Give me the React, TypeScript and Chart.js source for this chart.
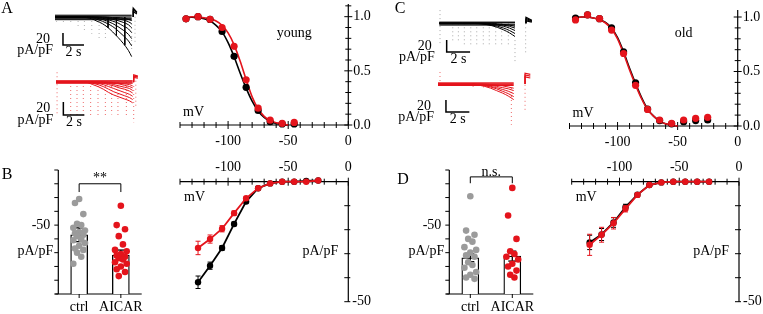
import { useEffect, useRef } from "react";
import { Chart, registerables } from "chart.js";
import type { ChartConfiguration, Plugin } from "chart.js";

Chart.register(...registerables);

const RED = "#e4141c";
const BLACK = "#000000";
const CELL_GREY = "#9b9b9b";
const FONT = '"Liberation Serif", "Times New Roman", Times, serif';

// ---------- steady-state activation (normalized, vs. mV) ----------
const actVoltsYoung = [-135, -125, -115, -105, -95, -85, -75, -65, -55, -45];
const actYoungCtrl = [0.98, 1.0, 0.975, 0.863, 0.634, 0.348, 0.134, 0.03, 0.01, 0.01];
const actYoungAicar = [0.98, 1.0, 0.976, 0.9, 0.726, 0.417, 0.155, 0.045, 0.015, 0.024];
const actVoltsOld = [-135, -125, -115, -105, -95, -85, -75, -65, -55, -45, -35, -25];
const actOldCtrl = [0.99, 1.02, 0.985, 0.9, 0.68, 0.397, 0.155, 0.05, 0.02, 0.04, 0.05, 0.055];
const actOldAicar = [0.973, 1.02, 0.985, 0.88, 0.665, 0.373, 0.152, 0.055, 0.025, 0.055, 0.07, 0.08];

// Boltzmann fits, sampled along the voltage axis
const fitVolts = [-137, -130, -125, -120, -115, -110, -105, -100, -95, -90, -85, -80, -75, -70, -65, -60, -55, -50];
const fitYoungCtrl = [0.99, 0.995, 0.99, 0.98, 0.96, 0.92, 0.86, 0.76, 0.63, 0.48, 0.34, 0.22, 0.13, 0.07, 0.035, 0.015, 0.005, 0];
const fitYoungAicar = [0.99, 1.0, 0.995, 0.99, 0.98, 0.96, 0.92, 0.85, 0.74, 0.59, 0.42, 0.26, 0.15, 0.08, 0.04, 0.02, 0.01, 0];
const fitOldCtrl = [0.985, 1.0, 1.0, 0.99, 0.975, 0.95, 0.9, 0.81, 0.68, 0.53, 0.39, 0.26, 0.155, 0.09, 0.045, 0.02, 0.008, 0];
const fitOldAicar = [0.985, 1.0, 1.0, 0.99, 0.975, 0.945, 0.89, 0.8, 0.665, 0.515, 0.375, 0.25, 0.15, 0.09, 0.045, 0.02, 0.008, 0];

// ---------- current density vs. voltage (pA/pF) ----------
const ivVolts = [-125, -115, -105, -95, -85, -75, -65, -55, -45, -35, -25];
const ivYoungCtrl = [-41.9, -35, -27.6, -17.6, -8.3, -2.7, -0.7, 0, 0, 0.3, 0.5];
const ivYoungCtrlSem = [2.6, 1.5, 1.0, 0.8, 0.6, 0.4, 0.3, 0.2, 0.2, 0.2, 0.2];
const ivYoungAicar = [-27.6, -23.9, -19.6, -13.1, -6.9, -2.7, -0.7, 0, 0, 0, 0.5];
const ivYoungAicarSem = [2.8, 1.7, 1.3, 0.9, 0.6, 0.4, 0.3, 0.2, 0.2, 0.2, 0.2];
const ivOldCtrl = [-25.3, -22, -17, -10.6, -5.4, -1.4, -0.3, 0, 0, 0, 0];
const ivOldCtrlSem = [3, 2.5, 2, 1.2, 0.7, 0.4, 0.3, 0.2, 0.2, 0.2, 0.2];
const ivOldAicar = [-26.3, -22.1, -17.3, -11.3, -5.5, -1.4, -0.3, 0, 0, 0, 0];
const ivOldAicarSem = [4.4, 3.1, 2.4, 1.3, 0.8, 0.5, 0.3, 0.2, 0.2, 0.2, 0.2];

// ---------- per-cell current density at -125 mV ----------
const barGroups = ["ctrl", "AICAR"];
const youngMeans = [-43, -28.3];
const youngSems = [5, 3.6];
const youngCtrlCells = [-69, -66, -58, -51, -50, -48, -46, -45, -44, -43, -42, -40, -39, -37, -35, -33, -32, -30, -27, -22];
const youngAicarCells = [-64, -50, -47, -42, -36, -32, -31, -29, -28, -27, -26, -25, -23, -22, -20, -18, -16, -13];
const oldMeans = [-26.3, -27.5];
const oldSems = [2.8, 3.6];
const oldCtrlCells = [-71, -46, -43, -40, -38, -34, -32, -30, -28, -27, -23, -21, -19, -16, -14, -12, -11];
const oldAicarCells = [-77, -57, -40, -31, -29, -27, -25, -22, -20, -17, -14, -12];

// ---------- example current traces (time in s, current in pA/pF) ----------
const stepTimesYoung = [0, 2, 3, 3.5, 4, 4.5, 5, 5.5, 6, 6.5, 7, 7.3];
const youngCtrlTraces = [
  [0, 0, -1, -3, -7, -11, -17, -25, -34, -44, -56, -66],
  [0, 0, 0, -1, -4, -7, -11, -16, -23, -31, -40, -48],
  [0, 0, 0, 0, -2, -4, -7, -11, -16, -22, -29, -36],
  [0, 0, 0, 0, -1, -2, -4, -7, -10, -15, -20, -26],
  [0, 0, 0, 0, 0, -1, -2, -4, -6, -9, -13, -18],
  [0, 0, 0, 0, 0, 0, -1, -2, -3, -5, -8, -11],
  [0, 0, 0, 0, 0, 0, 0, -1, -1, -2, -4, -6],
];
const youngCtrlHold = [3, 1.5, -1.5, -3, -4.5];
const youngCtrlStripeT = [5.05, 5.85, 6.65];
const youngCtrlStripeDepth = [-18, -31, -47];
const youngCtrlDotT = [0.15, 0.8, 1.5, 2.2, 2.8, 3.5, 4.2, 4.8, 7.3, 7.62];
const youngCtrlDotTop = [0, 0, 0, 0, 0, 0, 0, 0, -5, 7];
const youngCtrlDotBottom = [-8, -10, -13, -17, -22, -28, -35, -40, -55, -43];
const youngCtrlTailPeaks = [15, 12, 9];
const youngCtrlTailEnds = [8, 7, 5];

const youngAicarTraces = [
  [0, 0, -1, -4, -7, -11, -16, -20, -23, -26, -29, -32],
  [0, 0, 0, -2, -4, -7, -11, -15, -18, -21, -24, -27],
  [0, 0, 0, -1, -2, -4, -7, -10, -13, -16, -19, -22],
  [0, 0, 0, 0, -1, -2, -4, -6, -9, -11, -14, -17],
  [0, 0, 0, 0, 0, -1, -2, -4, -6, -8, -10, -13],
  [0, 0, 0, 0, 0, 0, -1, -2, -3, -5, -7, -9],
  [0, 0, 0, 0, 0, 0, 0, -1, -2, -3, -4, -6],
];
const youngAicarHold = [2, 1, -1, -2];
const youngAicarDotT = [0.1, 1.4, 2.0, 2.6, 3.3, 4.0, 4.7, 5.3, 5.9, 6.7, 7.4, 7.6];
const youngAicarDotTop = [15, 0, 0, 0, 0, 0, 0, 0, 0, 0, 0, 2];
const youngAicarDotBottom = [-50, -52, -55, -50, -55, -52, -55, -50, -55, -55, -62, -38];
const youngAicarTailPeaks = [11, 9, 7];
const youngAicarTailEnds = [9, 8, 6];

const stepTimesOld = [0, 2, 3, 3.5, 4, 4.5, 5, 5.5, 6, 6.47];
const oldCtrlTraces = [
  [0, 0, 0, -1, -2, -4, -7, -11, -16, -22],
  [0, 0, 0, 0, -1, -3, -5, -8, -12, -17],
  [0, 0, 0, 0, -1, -2, -3, -5, -8, -12],
  [0, 0, 0, 0, 0, -1, -2, -3, -5, -8],
  [0, 0, 0, 0, 0, 0, -1, -2, -3, -5],
];
const oldCtrlHold = [2, 1, -1.5, -3];
const oldCtrlDotT = [0.06, 1.15, 1.63, 2.14, 2.69, 3.2, 3.76, 4.27, 4.82, 5.33, 5.9, 6.47, 7.38];
const oldCtrlDotTop = [22, 0, 0, 0, 0, 0, 0, 0, 0, 0, 0, -28, 0];
const oldCtrlDotBottom = [-36, -30, -33, -36, -36, -38, -36, -38, -36, -36, -36, -66, -53];
const oldCtrlTailPeaks = [10, 8, 6, 4];
const oldCtrlTailEnds = [5, 4, 3, 2];

const oldAicarTraces = [
  [0, 0, 0, -2, -4, -7, -11, -15, -20, -26],
  [0, 0, 0, -1, -3, -5, -8, -12, -16, -21],
  [0, 0, 0, -1, -2, -4, -6, -9, -12, -16],
  [0, 0, 0, 0, -1, -2, -4, -6, -8, -11],
  [0, 0, 0, 0, 0, -1, -2, -3, -5, -7],
];
const oldAicarHold = [2, 0.5, -1, -2.5];
const oldAicarDotT = [0.17, 3.0, 3.9, 4.6, 6.27, 7.44];
const oldAicarDotTop = [20, -3, -4, -6, 0, 12];
const oldAicarDotBottom = [2, -8, -9, -12, -68, -43];
const oldAicarTailPeaks = [18, 15, 12];
const oldAicarTailEnds = [16, 13, 10];

// ---------- drawing helpers ----------
type Pad = { left: number; right: number; top: number; bottom: number };
type XY = { x: number; y: number };
const pts = (xs: number[], ys: number[]): XY[] => xs.map((x, i) => ({ x, y: ys[i] }));

function seg(ctx: CanvasRenderingContext2D, x1: number, y1: number, x2: number, y2: number, w = 1.2, color = BLACK) {
  ctx.save();
  ctx.strokeStyle = color;
  ctx.lineWidth = w;
  ctx.beginPath();
  ctx.moveTo(x1, y1);
  ctx.lineTo(x2, y2);
  ctx.stroke();
  ctx.restore();
}

function txt(ctx: CanvasRenderingContext2D, s: string, x: number, y: number, align: CanvasTextAlign = "center", size = 14) {
  ctx.save();
  ctx.font = `${size}px ${FONT}`;
  ctx.fillStyle = BLACK;
  ctx.textAlign = align;
  ctx.textBaseline = "middle";
  ctx.fillText(s, x, y);
  ctx.restore();
}

const baseOptions = (pad: Pad) => ({
  responsive: false,
  maintainAspectRatio: false,
  animation: false as const,
  devicePixelRatio: 1,
  events: [] as any[],
  layout: { padding: pad },
  plugins: { legend: { display: false }, tooltip: { enabled: false } },
});

// error bars attached to any dataset carrying a `sem` array
const errorBars = (cap: number, width: number): Plugin => ({
  id: "errorBars",
  afterDatasetDraw(chart, args: any) {
    const ds: any = chart.data.datasets[args.index];
    if (!ds.sem) return;
    const y = chart.scales.y;
    const color = ds.errColor || ds.borderColor || BLACK;
    args.meta.data.forEach((el: any, i: number) => {
      const d = ds.data[i];
      const v = d && typeof d === "object" ? d.y : d;
      const e = ds.sem[i];
      const top = y.getPixelForValue(v + e);
      const bot = y.getPixelForValue(v - e);
      seg(chart.ctx, el.x, top, el.x, bot, width, color);
      seg(chart.ctx, el.x - cap, top, el.x + cap, top, width, color);
      seg(chart.ctx, el.x - cap, bot, el.x + cap, bot, width, color);
    });
  },
});

// ---------- activation panels ----------
type ActivationSpec = {
  volts: number[]; ctrl: number[]; aicar: number[]; fitCtrl: number[]; fitAicar: number[];
  yMax: number; pad: Pad; tag: string;
};

const activationAxes = (tag: string): Plugin => ({
  id: "activationAxes",
  beforeDatasetsDraw(chart) {
    const { ctx } = chart;
    const x = chart.scales.x, y = chart.scales.y;
    const y0 = y.getPixelForValue(0), x0 = x.getPixelForValue(0);
    seg(ctx, x.getPixelForValue(-140), y0, x0, y0);
    for (let v = -140; v <= 0; v += 10) {
      const px = x.getPixelForValue(v);
      const h = v % 50 === 0 ? 4 : 3;
      seg(ctx, px, y0 - h, px, y0 + h, 1);
    }
    [-100, -50, 0].forEach((v) => txt(ctx, String(v), x.getPixelForValue(v), y0 + 16));
    seg(ctx, x0, y.getPixelForValue(y.max), x0, y0);
    for (let k = 0; k <= Math.floor(y.max * 10 + 1e-6); k++) {
      const py = y.getPixelForValue(k / 10);
      const h = k % 5 === 0 ? 4 : 3;
      seg(ctx, x0 - h, py, x0 + h, py, 1);
    }
    ([["1.0", 1], ["0.5", 0.5], ["0.0", 0]] as [string, number][]).forEach(([s, v]) =>
      txt(ctx, s, x0 + 5, y.getPixelForValue(v), "left"));
    txt(ctx, "mV", x.getPixelForValue(-140) + 3, y0 - 13, "left");
    txt(ctx, tag, x.getPixelForValue(-45), y.getPixelForValue(0.85));
  },
});

function activationConfig(s: ActivationSpec): ChartConfiguration {
  const dot = (data: XY[], color: string, order: number) => ({
    data, showLine: false, pointRadius: 3.6, pointBackgroundColor: color, pointBorderColor: color,
    pointBorderWidth: 0, order, clip: false,
  });
  const fit = (data: XY[], color: string, order: number) => ({
    data, showLine: true, borderColor: color, borderWidth: 1.6, pointRadius: 0,
    cubicInterpolationMode: "monotone", order, clip: false,
  });
  return {
    type: "scatter",
    data: {
      datasets: [
        dot(pts(s.volts, s.aicar), RED, 0),
        dot(pts(s.volts, s.ctrl), BLACK, 1),
        fit(pts(fitVolts, s.fitAicar), RED, 2),
        fit(pts(fitVolts, s.fitCtrl), BLACK, 3),
      ],
    },
    options: {
      ...baseOptions(s.pad),
      scales: {
        x: { type: "linear", display: false, min: -140, max: 0 },
        y: { type: "linear", display: false, min: 0, max: s.yMax },
      },
    },
    plugins: [activationAxes(s.tag)],
  } as any;
}

// ---------- I-V panels ----------
const ivAxes: Plugin = {
  id: "ivAxes",
  beforeDatasetsDraw(chart) {
    const { ctx } = chart;
    const x = chart.scales.x, y = chart.scales.y;
    const y0 = y.getPixelForValue(0), x0 = x.getPixelForValue(0);
    seg(ctx, x.getPixelForValue(-140), y0, x0, y0);
    for (let v = -140; v <= 0; v += 10) {
      const px = x.getPixelForValue(v);
      const h = v % 50 === 0 ? 4 : 3;
      seg(ctx, px, y0 - h, px, y0 + h, 1);
    }
    [-100, -50, 0].forEach((v) => txt(ctx, String(v), x.getPixelForValue(v), y0 - 14));
    seg(ctx, x0, y0, x0, y.getPixelForValue(-50));
    for (let v = -10; v >= -50; v -= 10) {
      const py = y.getPixelForValue(v);
      seg(ctx, x0 - 4, py, x0 + 2, py, 1);
    }
    txt(ctx, "mV", x.getPixelForValue(-140) + 4, y0 + 16, "left");
    txt(ctx, "pA/pF", x0 - 10, y.getPixelForValue(-29), "right");
    txt(ctx, "-50", x0 + 4, y.getPixelForValue(-50), "left");
  },
};

function ivConfig(ctrl: number[], ctrlSem: number[], aicar: number[], aicarSem: number[], pad: Pad): ChartConfiguration {
  const series = (ys: number[], sem: number[], color: string, order: number) => ({
    data: pts(ivVolts, ys), sem, showLine: true, borderColor: color, borderWidth: 1.8,
    pointRadius: 3.2, pointBackgroundColor: color, pointBorderColor: color, pointBorderWidth: 0,
    order, clip: false,
  });
  return {
    type: "scatter",
    data: { datasets: [series(aicar, aicarSem, RED, 0), series(ctrl, ctrlSem, BLACK, 1)] },
    options: {
      ...baseOptions(pad),
      scales: {
        x: { type: "linear", display: false, min: -140, max: 0 },
        y: { type: "linear", display: false, min: -50, max: 0 },
      },
    },
    plugins: [ivAxes, errorBars(2.5, 1)],
  } as any;
}

// ---------- bar + cells panels ----------
const swarm = [0, -0.1, 0.1, -0.05, 0.05, -0.14, 0.14];

type BarSpec = {
  means: number[]; sems: number[]; ctrlCells: number[]; aicarCells: number[]; pad: Pad;
  mark: string; markLevel: number; markDrop: number; markText: number; letter: string; letterAt: [number, number];
};

const barAxes = (s: BarSpec): Plugin => ({
  id: "barAxes",
  beforeDatasetsDraw(chart) {
    const { ctx, chartArea: a } = chart;
    const y = chart.scales.y, x = chart.scales.x;
    const y0 = y.getPixelForValue(0);
    seg(ctx, a.left, y.getPixelForValue(-90), a.left, y0);
    for (let v = -90; v <= 0; v += 10) {
      const py = y.getPixelForValue(v);
      seg(ctx, a.left - 4, py, a.left, py, 1);
    }
    txt(ctx, "-50", a.left - 8, y.getPixelForValue(-50), "right");
    txt(ctx, "pA/pF", a.left - 5, y.getPixelForValue(-31), "right");
    seg(ctx, a.left - 3, y0, a.right, y0);
    barGroups.forEach((g, i) => {
      const px = x.getPixelForValue(i);
      seg(ctx, px, y0, px, y0 + 4, 1);
      txt(ctx, g, px, y0 + 13);
    });
    txt(ctx, s.letter, s.letterAt[0], s.letterAt[1], "center", 16);
  },
  afterDatasetsDraw(chart) {
    const { ctx } = chart;
    const y = chart.scales.y, x = chart.scales.x;
    const xa = x.getPixelForValue(0), xb = x.getPixelForValue(1);
    const yl = y.getPixelForValue(s.markLevel), yd = y.getPixelForValue(s.markDrop);
    seg(ctx, xa, yd, xa, yl, 1);
    seg(ctx, xa, yl, xb, yl, 1);
    seg(ctx, xb, yl, xb, yd, 1);
    txt(ctx, s.mark, (xa + xb) / 2, y.getPixelForValue(s.markText));
  },
});

function barConfig(s: BarSpec): ChartConfiguration {
  const cells = (vals: number[], group: number, color: string) => ({
    type: "scatter", data: vals.map((v, i) => ({ x: group + swarm[i % swarm.length], y: v })),
    pointRadius: 3.3, pointBackgroundColor: color, pointBorderColor: color, pointBorderWidth: 0, order: 0, clip: false,
  });
  return {
    type: "bar",
    data: {
      datasets: [
        cells(s.ctrlCells, 0, CELL_GREY),
        cells(s.aicarCells, 1, RED),
        {
          type: "bar", data: s.means.map((m, i) => ({ x: i, y: m })), sem: s.sems, errColor: BLACK,
          backgroundColor: "#ffffff", borderColor: BLACK, borderWidth: 1.3, barThickness: 17, order: 2,
        },
      ],
    },
    options: {
      ...baseOptions(s.pad),
      scales: {
        x: { type: "linear", display: false, min: -0.5, max: 1.5, offset: false },
        y: { type: "linear", display: false, min: -90, max: 0, reverse: true },
      },
    },
    plugins: [barAxes(s), errorBars(4, 1.3)],
  } as any;
}

// ---------- example trace panels ----------
type TraceSpec = {
  times: number[]; traces: number[][]; hold: number[]; color: string;
  stripeT?: number[]; stripeDepth?: number[];
  dotT: number[]; dotTop: number[]; dotBottom: number[]; dotColor: string;
  tailT: number; tailDur: number; tailPeaks: number[]; tailEnds: number[];
  barT: number; barI: number;
  w: number; h: number; t0px: number; basePx: number; pxPerS: number; pxPerUnit: number;
  labelGap: [number, number]; letter?: string; letterX?: number;
};

const traceLabels = (s: TraceSpec): Plugin => ({
  id: "traceLabels",
  afterDatasetsDraw(chart) {
    const { ctx } = chart;
    const x = chart.scales.x, y = chart.scales.y;
    const bx = x.getPixelForValue(s.barT), br = x.getPixelForValue(s.barT + 2);
    const bTop = y.getPixelForValue(s.barI + 20), bBot = y.getPixelForValue(s.barI);
    txt(ctx, "20", bx - s.labelGap[0], bTop + 6, "right");
    txt(ctx, "pA/pF", bx - s.labelGap[1], bBot + 5, "right");
    txt(ctx, "2 s", (bx + br) / 2, bBot + 7);
    if (s.letter) txt(ctx, s.letter, s.letterX ?? 7, 9, "center", 16);
  },
});

function traceConfig(s: TraceSpec): ChartConfiguration {
  const line = (data: XY[], color: string, width: number, extra: object = {}) => ({
    data, showLine: true, borderColor: color, borderWidth: width, pointRadius: 0, clip: false, ...extra,
  });
  const ds: any[] = [];
  s.traces.forEach((tr) => ds.push(line(pts(s.times, tr), s.color, 1, { cubicInterpolationMode: "monotone" })));
  const t0 = s.times[0], t1 = s.times[s.times.length - 1];
  s.hold.forEach((v) => ds.push(line([{ x: t0, y: v }, { x: t1, y: v }], s.color, 1)));
  (s.stripeT ?? []).forEach((t, i) => ds.push(line([{ x: t, y: 0 }, { x: t, y: s.stripeDepth![i] }], s.color, 1)));
  s.tailPeaks.forEach((p, i) =>
    ds.push(line([{ x: s.tailT, y: 0 }, { x: s.tailT, y: p }, { x: s.tailT + s.tailDur, y: s.tailEnds[i] }], s.color, 1.2)));
  ds.push(line([{ x: s.barT, y: s.barI + 20 }, { x: s.barT, y: s.barI }, { x: s.barT + 2, y: s.barI }], BLACK, 1.5));
  s.dotT.forEach((t, i) =>
    ds.push(line([{ x: t, y: s.dotTop[i] }, { x: t, y: s.dotBottom[i] }], s.dotColor, 1, { borderDash: [1, 3] })));
  return {
    type: "scatter",
    data: { datasets: ds },
    options: {
      ...baseOptions({ left: s.t0px, right: 0, top: 0, bottom: 0 }),
      scales: {
        x: { type: "linear", display: false, min: 0, max: (s.w - s.t0px) / s.pxPerS },
        y: { type: "linear", display: false, min: -(s.h - s.basePx) / s.pxPerUnit, max: s.basePx / s.pxPerUnit },
      },
    },
    plugins: [traceLabels(s)],
  } as any;
}

const traceYoungCtrl: TraceSpec = {
  times: stepTimesYoung, traces: youngCtrlTraces, hold: youngCtrlHold, color: BLACK,
  stripeT: youngCtrlStripeT, stripeDepth: youngCtrlStripeDepth,
  dotT: youngCtrlDotT, dotTop: youngCtrlDotTop, dotBottom: youngCtrlDotBottom, dotColor: "#b0b0b0",
  tailT: 7.45, tailDur: 0.35, tailPeaks: youngCtrlTailPeaks, tailEnds: youngCtrlTailEnds,
  barT: 0.76, barI: -46.7,
  w: 150, h: 68, t0px: 55, basePx: 17, pxPerS: 10.5, pxPerUnit: 0.6,
  labelGap: [13, 10], letter: "A", letterX: 7,
};
const traceYoungAicar: TraceSpec = {
  times: stepTimesYoung, traces: youngAicarTraces, hold: youngAicarHold, color: RED,
  dotT: youngAicarDotT, dotTop: youngAicarDotTop, dotBottom: youngAicarDotBottom, dotColor: "#ee6a6a",
  tailT: 7.4, tailDur: 0.4, tailPeaks: youngAicarTailPeaks, tailEnds: youngAicarTailEnds,
  barT: 0.7, barI: -50.8,
  w: 150, h: 70, t0px: 56, basePx: 14, pxPerS: 10.5, pxPerUnit: 0.65,
  labelGap: [13, 10],
};
const traceOldCtrl: TraceSpec = {
  times: stepTimesOld, traces: oldCtrlTraces, hold: oldCtrlHold, color: BLACK,
  dotT: oldCtrlDotT, dotTop: oldCtrlDotTop, dotBottom: oldCtrlDotBottom, dotColor: "#a8a8a8",
  tailT: 7.41, tailDur: 0.5, tailPeaks: oldCtrlTailPeaks, tailEnds: oldCtrlTailEnds,
  barT: 0.63, barI: -47.8,
  w: 160, h: 68, t0px: 59.3, basePx: 23.3, pxPerS: 11.7, pxPerUnit: 0.6,
  labelGap: [15, 12], letter: "C", letterX: 20,
};
const traceOldAicar: TraceSpec = {
  times: stepTimesOld, traces: oldAicarTraces, hold: oldAicarHold, color: RED,
  dotT: oldAicarDotT, dotTop: oldAicarDotTop, dotBottom: oldAicarDotBottom, dotColor: "#ee6a6a",
  tailT: 7.44, tailDur: 0.45, tailPeaks: oldAicarTailPeaks, tailEnds: oldAicarTailEnds,
  barT: 0.68, barI: -46.7,
  w: 160, h: 70, t0px: 58, basePx: 16, pxPerS: 11.7, pxPerUnit: 0.6,
  labelGap: [15, 12],
};

type PanelDef = { id: string; left: number; top: number; width: number; height: number; make: () => ChartConfiguration };

const panels: PanelDef[] = [
  { id: "traceYoungCtrl", left: 0, top: 0, width: 150, height: 68, make: () => traceConfig(traceYoungCtrl) },
  { id: "traceYoungAicar", left: 0, top: 68, width: 150, height: 70, make: () => traceConfig(traceYoungAicar) },
  { id: "traceOldCtrl", left: 380, top: 0, width: 160, height: 68, make: () => traceConfig(traceOldCtrl) },
  { id: "traceOldAicar", left: 380, top: 68, width: 160, height: 70, make: () => traceConfig(traceOldAicar) },
  {
    id: "actYoung", left: 150, top: 0, width: 230, height: 150,
    make: () => activationConfig({
      volts: actVoltsYoung, ctrl: actYoungCtrl, aicar: actYoungAicar, fitCtrl: fitYoungCtrl, fitAicar: fitYoungAicar,
      yMax: 124 / 111, pad: { left: 30, right: 31.7, top: 1, bottom: 25 }, tag: "young",
    }),
  },
  {
    id: "actOld", left: 540, top: 0, width: 223, height: 150,
    make: () => activationConfig({
      volts: actVoltsOld, ctrl: actOldCtrl, aicar: actOldAicar, fitCtrl: fitOldCtrl, fitAicar: fitOldAicar,
      yMax: 116 / 109, pad: { left: 29.5, right: 25.3, top: 10, bottom: 24 }, tag: "old",
    }),
  },
  {
    id: "ivYoung", left: 150, top: 150, width: 230, height: 164,
    make: () => ivConfig(ivYoungCtrl, ivYoungCtrlSem, ivYoungAicar, ivYoungAicarSem, { left: 30, right: 31.7, top: 31.7, bottom: 12.3 }),
  },
  {
    id: "ivOld", left: 560, top: 150, width: 203, height: 164,
    make: () => ivConfig(ivOldCtrl, ivOldCtrlSem, ivOldAicar, ivOldAicarSem, { left: 11.7, right: 24, top: 31.7, bottom: 12.3 }),
  },
  {
    id: "barYoung", left: 0, top: 150, width: 150, height: 164,
    make: () => barConfig({
      means: youngMeans, sems: youngSems, ctrlCells: youngCtrlCells, aicarCells: youngAicarCells,
      pad: { left: 58.3, right: 8.3, top: 20, bottom: 20 },
      mark: "**", markLevel: -80, markDrop: -74, markText: -84, letter: "B", letterAt: [7, 25],
    }),
  },
  {
    id: "barOld", left: 380, top: 150, width: 180, height: 164,
    make: () => barConfig({
      means: oldMeans, sems: oldSems, ctrlCells: oldCtrlCells, aicarCells: oldAicarCells,
      pad: { left: 69.3, right: 26.7, top: 20, bottom: 20 },
      mark: "n.s.", markLevel: -85, markDrop: -80.4, markText: -88.5, letter: "D", letterAt: [23, 30],
    }),
  },
];

function ChartPanel({ left, top, width, height, make }: PanelDef) {
  const ref = useRef<HTMLCanvasElement | null>(null);
  useEffect(() => {
    if (!ref.current) return;
    const chart = new Chart(ref.current, make());
    return () => chart.destroy();
  }, [make]);
  return (
    <canvas
      ref={ref}
      width={width}
      height={height}
      style={{ position: "absolute", left, top, width, height }}
    />
  );
}

export default function App() {
  return (
    <div
      style={{
        position: "fixed", left: 0, top: 0, width: 763, height: 314,
        background: "#ffffff", overflow: "hidden",
      }}
    >
      {panels.map((p) => (
        <ChartPanel key={p.id} {...p} />
      ))}
    </div>
  );
}
